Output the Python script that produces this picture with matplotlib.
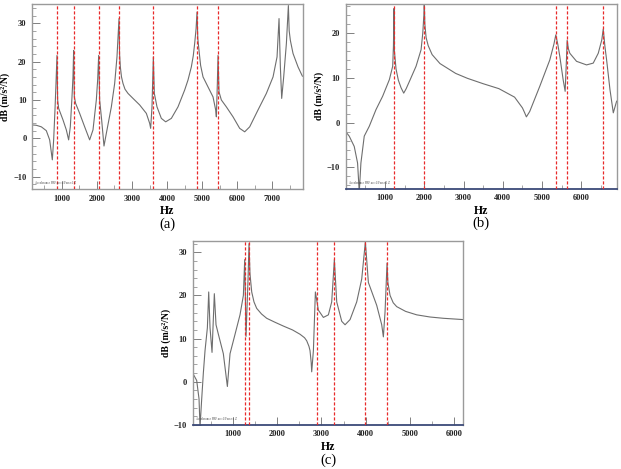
import matplotlib
matplotlib.use('Agg')
import matplotlib.pyplot as plt
from matplotlib.ticker import MultipleLocator

# datos: frecuencia (Hz) y amplitud (dB)
fa = [143, 267, 410, 552, 648, 724, 762, 800, 829, 857, 876, 905, 1029, 1124, 1190, 1238, 1286, 1314, 1333,
      1352, 1390, 1505, 1648, 1790, 1886, 1981, 2019, 2048, 2076, 2133, 2200, 2267, 2410, 2505, 2571, 2629,
      2645, 2667, 2700, 2743, 2800, 2886, 3029, 3219, 3410, 3505, 3533, 3571, 3610, 3638, 3714, 3838, 3962,
      4124, 4314, 4505, 4600, 4695, 4750, 4790, 4830, 4857, 4880, 4914, 4960, 5029, 5171, 5314, 5390, 5410,
      5438, 5457, 5486, 5552, 5695, 5886, 6076, 6219, 6362, 6600, 6838, 7029, 7143, 7200, 7238, 7276, 7333,
      7410, 7467, 7490, 7524, 7600, 7743, 7867]
da = [3.5, 3.4, 3.0, 2.0, -0.4, -5.6, -0.4, 7.4, 14.3, 21.6, 10.0, 7.8, 4.8, 2.2, -0.4, 3.0, 10.8, 16.0, 22.9,
      10.8, 9.1, 6.5, 3.0, -0.4, 2.2, 10.0, 15.2, 21.6, 10.0, 4.8, -2.0, 1.3, 8.2, 14.3, 21.2, 31.2,
      22.0, 18.6, 16.0, 14.3, 12.8, 11.7, 10.4, 8.7, 6.5, 3.9, 2.6, 8.2, 21.2, 11.7, 8.2, 5.2, 4.3,
      5.2, 8.2, 12.6, 15.2, 18.6, 21.5, 24.7, 28.5, 32.9, 26.0, 22.9, 19.0, 16.0, 13.4, 10.8, 7.4, 5.6,
      14.3, 21.6, 12.1, 10.0, 8.2, 5.6, 2.6, 1.7, 3.0, 7.4, 11.7, 16.0, 21.2, 31.2, 18.6, 10.4, 16.0,
      24.7, 34.6, 28.0, 25.5, 22.1, 18.6, 16.2]
ra = [857, 1333, 2048, 2629, 3610, 4857, 5457]
xta = [1000, 2000, 3000, 4000, 5000, 6000, 7000]

fb = [0, 89, 217, 302, 345, 387, 472, 600, 770, 940, 1111, 1196, 1215, 1230, 1240, 1281, 1340, 1409, 1477,
      1540, 1621, 1791, 1919, 1962, 1990, 2000, 2015, 2047, 2100, 2200, 2400, 2800, 3100, 3500, 3900, 4300,
      4500, 4557, 4600, 4685, 4940, 5196, 5300, 5349, 5400, 5451, 5536, 5587, 5620, 5638, 5670, 5706, 5877,
      6132, 6302, 6430, 6520, 6557, 6600, 6643, 6728, 6813, 6898]
db = [-2.0, -3.0, -5.3, -9.0, -15.5, -9.0, -3.0, -0.8, 2.9, 5.9, 9.6, 12.6, 17.0, 25.5, 16.0, 12.0, 9.5, 7.8, 6.6,
      7.6, 9.2, 12.6, 16.3, 20.0, 24.0, 27.5, 22.0, 19.0, 17.2, 15.2, 13.2, 11.0, 9.9, 8.7, 7.6, 5.7,
      3.3, 2.2, 1.3, 2.5, 8.1, 14.0, 17.5, 19.6, 17.5, 14.8, 9.6, 7.0, 14.0, 18.4, 16.5, 15.5, 13.7,
      12.9, 13.3, 15.5, 18.5, 20.9, 17.0, 14.0, 7.4, 2.2, 4.8]
rb = [1230, 2000, 5366, 5638, 6562]
xtb = [1000, 2000, 3000, 4000, 5000, 6000]

fc = [98, 188, 241, 263, 301, 338, 376, 429, 459, 489, 534, 586, 624, 677, 789, 880, 940, 1053, 1165, 1241,
      1271, 1301, 1346, 1368, 1390, 1429, 1480, 1541, 1650, 1767, 1950, 2143, 2350, 2519, 2620, 2669, 2720,
      2744, 2770, 2782, 2820, 2865, 2932, 3045, 3158, 3233, 3293, 3346, 3459, 3534, 3647, 3797, 3910, 3992,
      4060, 4248, 4361, 4398, 4436, 4481, 4500, 4549, 4620, 4699, 4900, 5150, 5450, 5752, 6203]
dc = [2.0, 0.3, -4.0, -10.5, -4.0, 2.0, 7.2, 12.5, 20.8, 12.5, 6.8, 20.4, 13.2, 11.0, 6.5, -1.1, 6.5, 11.0, 15.5, 20.0,
      28.3, 10.5, 23.8, 32.0, 25.0, 20.8, 18.5, 17.0, 15.7, 14.7, 13.8, 12.9, 12.0, 11.0, 10.2, 9.5, 8.2,
      7.2, 4.5, 2.3, 7.2, 20.8, 16.6, 14.9, 15.5, 18.5, 28.3, 18.5, 14.0, 13.2, 14.4, 18.5, 23.8, 32.4,
      23.0, 17.7, 13.2, 10.4, 16.2, 27.5, 23.0, 20.0, 18.3, 17.4, 16.3, 15.5, 15.0, 14.7, 14.4]
rc = [1271, 1376, 2895, 3293, 3992, 4481]
xtc = [1000, 2000, 3000, 4000, 5000, 6000]

# fuente tipo Times en negrita para todo (los (a),(b),(c) van normales)
plt.rcParams['font.family'] = ['Liberation Serif', 'DejaVu Serif']
plt.rcParams['font.weight'] = 'bold'
plt.rcParams['axes.labelweight'] = 'bold'

fig = plt.figure(figsize=(6.21, 4.69), dpi=100)

def panel(rect, f, d, rojas, xt, xlim, ylim, letra, azul):
    ax = fig.add_axes(rect)
    # curva FRF
    ax.plot(f, d, color='#6e6e6e', lw=0.8, zorder=2)
    # lineas verticales rojas punteadas
    for r in rojas:
        ax.axvline(r, color='#e82a2a', lw=0.9, ls=(0, (2.5, 1.5)), zorder=3)
    ax.set_xlim(xlim)
    ax.set_ylim(ylim)
    ax.set_xticks(xt)
    ax.xaxis.set_minor_locator(MultipleLocator(500))
    ax.yaxis.set_major_locator(MultipleLocator(10))
    ax.yaxis.set_minor_locator(MultipleLocator(2))
    ax.tick_params(which='both', direction='in', color='#808080', labelcolor='#222222',
                   top=False, right=False)
    ax.tick_params(which='major', length=6, width=0.7, labelsize=6, pad=4)
    ax.tick_params(which='minor', length=3, width=0.5)
    for s in ax.spines.values():
        s.set_color('#9a9a9a')
        s.set_linewidth(1.0)
    if azul:
        ax.spines['bottom'].set_color('#3b4a78')
        ax.spines['bottom'].set_linewidth(1.3)
    ax.set_xlabel('Hz', fontsize=8.5, labelpad=2)
    ax.set_ylabel('dB (m/s²/N)', fontsize=7, labelpad=2)
    # leyenda diminuta abajo a la izquierda
    ax.text(0.012, 0.025, 'Accelerance FRF acc:1/Force:1 Z', transform=ax.transAxes,
            fontsize=2.2, fontweight='normal', color='#444444')
    ax.text(0.5, -0.19, letra, transform=ax.transAxes, ha='center', va='center',
            fontsize=10.5, fontweight='normal')
    return ax

panel([0.0515, 0.597, 0.4365, 0.3945], fa, da, ra, xta, (143, 7886), (-13.2, 35.0), '(a)', False)
panel([0.5567, 0.598, 0.4364, 0.3935], fb, db, rb, xtb, (0, 6900), (-14.7, 26.5), '(b)', True)
panel([0.3103, 0.094, 0.4357, 0.393], fc, dc, rc, xtc, (98, 6200), (-10, 32.7), '(c)', True)

fig.savefig('out.png', dpi=100)
